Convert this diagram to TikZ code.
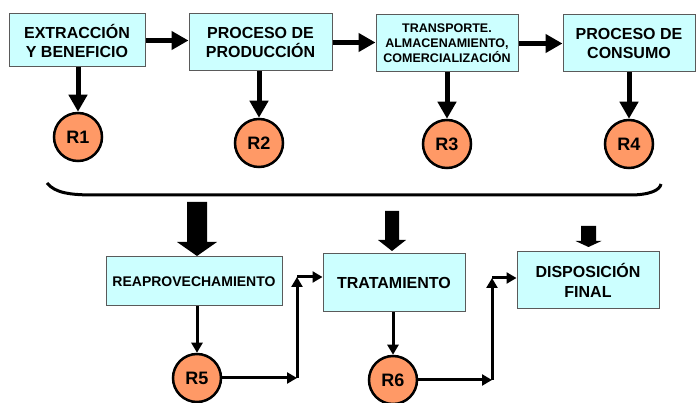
\documentclass[tikz,border=0pt]{standalone}
\usepackage{fontspec}
\setmainfont{Liberation Sans}
\usetikzlibrary{arrows.meta}
\definecolor{boxcyan}{RGB}{204,255,255}
\definecolor{resorange}{RGB}{255,153,102}
\definecolor{boxline}{RGB}{90,90,90}

\begin{document}
\begin{tikzpicture}[x=1pt, y=-1pt,
    etapa/.style={draw=boxline, line width=1pt, fill=boxcyan, align=center, inner sep=0pt,
      font=\bfseries\fontsize{16}{19}\selectfont},
    residuo/.style={circle, draw, line width=2.5pt, fill=resorange, minimum size=48pt, inner sep=0pt,
      font=\bfseries\fontsize{18}{20}\selectfont},
    flecha/.style={line width=5pt, -{Triangle[length=17pt,width=18pt]}},
    flechita/.style={line width=3pt, -{Triangle[length=10pt,width=11pt]}}]
  \useasboundingbox (0,0) rectangle (697,403);

  % etapas del ciclo
  \node[etapa, minimum width=136pt, minimum height=53pt] (ext) at (77,40.5) {EXTRACCIÓN\\Y BENEFICIO};
  \node[etapa, minimum width=143pt, minimum height=57pt] (prod) at (260.5,42.5) {PROCESO DE\\PRODUCCIÓN};
  \node[etapa, minimum width=142pt, minimum height=57pt, font=\bfseries\fontsize{12.5}{15}\selectfont] (trans) at (447,43.5) {TRANSPORTE.\\ALMACENAMIENTO,\\COMERCIALIZACIÓN};
  \node[etapa, minimum width=132pt, minimum height=57pt] (cons) at (629,43.5) {PROCESO DE\\CONSUMO};

  \node[residuo] (r1) at (78,137) {R1};
  \node[residuo] (r2) at (259,143) {R2};
  \node[residuo] (r3) at (447,144) {R3};
  \node[residuo] (r4) at (629,144) {R4};

  \draw[flecha] (ext.east) -- (ext.east -| prod.west);
  \draw[flecha] (prod.east) -- (prod.east -| trans.west);
  \draw[flecha] (trans.east) -- (trans.east -| cons.west);
  \draw[flecha] (ext.south -| r1) -- (r1.north);
  \draw[flecha] (prod.south -| r2) -- (r2.north);
  \draw[flecha] (trans.south -| r3) -- (r3.north);
  \draw[flecha] (cons.south -| r4) -- (r4.north);

  % llave
  \draw[line width=3pt] (47,183) .. controls (55,193) and (70,195) .. (95,195) -- (630,195)
    .. controls (650,195) and (660,190) .. (661,184);

  % flechas gruesas
  \fill (187,202) -- (207,202) -- (207,242) -- (217,242) -- (197,256) -- (177,242) -- (187,242) -- cycle;
  \fill (385,211) -- (399,211) -- (399,240) -- (406,240) -- (392,251) -- (378,240) -- (385,240) -- cycle;
  \fill (581,226) -- (596,226) -- (596,241) -- (601.5,241) -- (588.5,247) -- (575.5,241) -- (581,241) -- cycle;

  % gestion de residuos
  \node[etapa, minimum width=176pt, minimum height=49pt, font=\bfseries\fontsize{14}{16}\selectfont] (reap) at (194,281.5) {REAPROVECHAMIENTO};
  \node[etapa, minimum width=142pt, minimum height=58pt] (trat) at (394,283) {TRATAMIENTO};
  \node[etapa, minimum width=142pt, minimum height=57pt, font=\bfseries\fontsize{16}{20}\selectfont] (disp) at (588,280.5) {DISPOSICIÓN\\FINAL};

  \node[residuo] (r5) at (197,378) {R5};
  \node[residuo] (r6) at (393,380) {R6};

  \coordinate (c5a) at (297,378);
  \coordinate (c5b) at (297,277);
  \coordinate (c6a) at (492,380);
  \coordinate (c6b) at (492,278);

  \draw[flechita] (reap.south -| r5) -- (r5.north);
  \draw[flechita] (r5.east) -- (c5a);
  \draw[flechita] (c5a) -- (c5b);
  \draw[flechita] (c5b) -- (c5b -| trat.west);
  \draw[flechita] (trat.south -| r6) -- (r6.north);
  \draw[flechita] (r6.east) -- (c6a);
  \draw[flechita] (c6a) -- (c6b);
  \draw[flechita] (c6b) -- (c6b -| disp.west);
\end{tikzpicture}
\end{document}
